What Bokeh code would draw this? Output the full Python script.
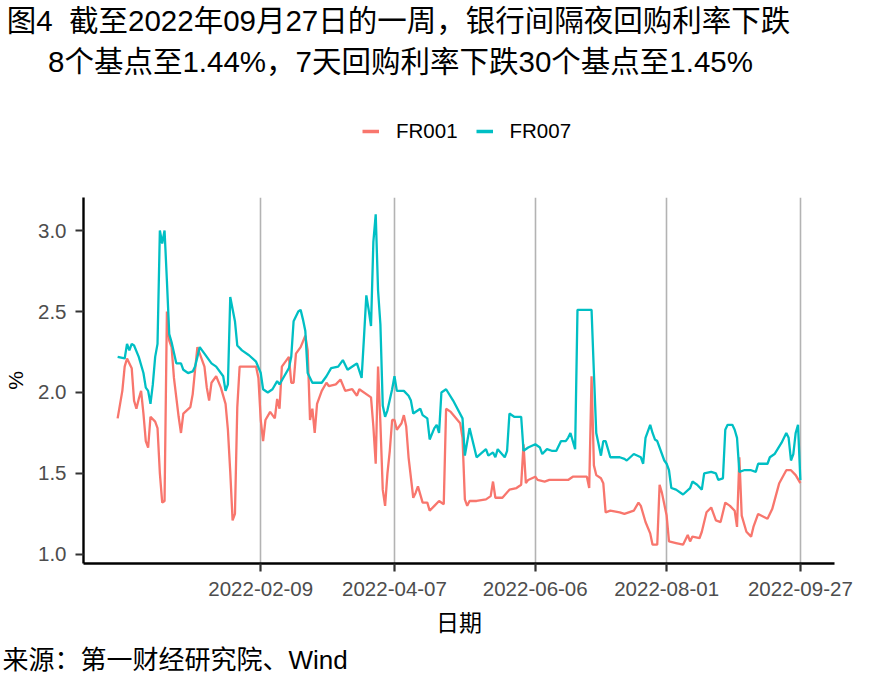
import pandas as pd
from bokeh.plotting import figure
from bokeh.layouts import column
from bokeh.models import (ColumnDataSource, Range1d, FixedTicker, DatetimeTickFormatter,
                          PrintfTickFormatter, Legend, LegendItem, Label)
from bokeh.embed import file_html
from bokeh.resources import INLINE

# ---------------- data ----------------
fr007_dates = [
    "2021-12-10", "2021-12-13", "2021-12-14", "2021-12-15", "2021-12-16", "2021-12-17", "2021-12-19",
    "2021-12-21", "2021-12-22", "2021-12-23", "2021-12-24", "2021-12-25", "2021-12-26", "2021-12-27",
    "2021-12-28", "2021-12-29", "2021-12-30", "2021-12-31", "2022-01-01", "2022-01-02", "2022-01-04",
    "2022-01-06", "2022-01-07", "2022-01-09", "2022-01-11", "2022-01-12", "2022-01-13", "2022-01-14",
    "2022-01-16", "2022-01-19", "2022-01-21", "2022-01-24", "2022-01-25", "2022-01-26", "2022-01-27",
    "2022-01-29", "2022-01-30", "2022-02-01", "2022-02-04", "2022-02-07", "2022-02-09", "2022-02-10",
    "2022-02-12", "2022-02-14", "2022-02-16", "2022-02-17", "2022-02-19", "2022-02-21", "2022-02-22",
    "2022-02-23", "2022-02-25", "2022-02-26", "2022-02-27", "2022-02-28", "2022-03-01", "2022-03-03",
    "2022-03-07", "2022-03-09", "2022-03-11", "2022-03-14", "2022-03-16", "2022-03-18", "2022-03-21",
    "2022-03-22", "2022-03-24", "2022-03-25", "2022-03-26", "2022-03-27", "2022-03-28", "2022-03-29",
    "2022-03-30", "2022-03-31", "2022-04-01", "2022-04-02", "2022-04-03", "2022-04-04", "2022-04-06",
    "2022-04-07", "2022-04-08", "2022-04-11", "2022-04-13", "2022-04-14", "2022-04-15", "2022-04-18",
    "2022-04-19", "2022-04-21", "2022-04-22", "2022-04-24", "2022-04-25", "2022-04-26", "2022-04-27",
    "2022-04-29", "2022-05-02", "2022-05-06", "2022-05-07", "2022-05-09", "2022-05-11", "2022-05-12",
    "2022-05-16", "2022-05-17", "2022-05-19", "2022-05-20", "2022-05-21", "2022-05-24", "2022-05-25",
    "2022-05-26", "2022-05-28", "2022-05-31", "2022-06-01", "2022-06-03", "2022-06-06", "2022-06-08",
    "2022-06-09", "2022-06-11", "2022-06-13", "2022-06-15", "2022-06-17", "2022-06-19", "2022-06-20",
    "2022-06-21", "2022-06-23", "2022-06-24", "2022-06-30", "2022-07-01", "2022-07-02", "2022-07-03",
    "2022-07-04", "2022-07-05", "2022-07-06", "2022-07-08", "2022-07-12", "2022-07-14", "2022-07-15",
    "2022-07-18", "2022-07-21", "2022-07-22", "2022-07-23", "2022-07-25", "2022-07-26", "2022-07-27",
    "2022-07-28", "2022-07-31", "2022-08-01", "2022-08-02", "2022-08-03", "2022-08-05", "2022-08-08",
    "2022-08-11", "2022-08-12", "2022-08-14", "2022-08-16", "2022-08-17", "2022-08-20", "2022-08-22",
    "2022-08-23", "2022-08-25", "2022-08-26", "2022-08-27", "2022-08-29", "2022-08-30", "2022-08-31",
    "2022-09-01", "2022-09-03", "2022-09-06", "2022-09-08", "2022-09-09", "2022-09-13", "2022-09-14",
    "2022-09-16", "2022-09-19", "2022-09-21", "2022-09-22", "2022-09-23", "2022-09-24", "2022-09-25",
    "2022-09-26", "2022-09-27",
]
fr007_values = [
    2.22, 2.21, 2.30, 2.26, 2.30, 2.29, 2.22,
    2.12, 2.03, 2.01, 1.93, 2.05, 2.22, 2.30,
    3.00, 2.92, 3.00, 2.69, 2.36, 2.31, 2.18,
    2.18, 2.14, 2.12, 2.13, 2.16, 2.22, 2.28,
    2.24, 2.18, 2.16, 2.10, 2.01, 2.05, 2.59,
    2.44, 2.29, 2.26, 2.23, 2.19, 2.12, 2.02,
    2.00, 2.02, 2.07, 2.05, 2.10, 2.15, 2.22,
    2.44, 2.50, 2.51, 2.45, 2.38, 2.12, 2.06,
    2.06, 2.10, 2.15, 2.16, 2.20, 2.14, 2.17,
    2.18, 2.09, 2.34, 2.60, 2.51, 2.41, 2.93,
    3.10, 2.63, 2.42, 1.92, 1.85, 1.89, 2.02,
    2.10, 2.01, 2.01, 1.98, 1.95, 1.87, 1.90,
    1.86, 1.84, 1.71, 1.78, 1.80, 1.75, 2.00,
    2.02, 1.95, 1.84, 1.61, 1.78, 1.66, 1.60,
    1.65, 1.61, 1.63, 1.60, 1.65, 1.60, 1.64,
    1.87, 1.85, 1.85, 1.64, 1.66, 1.68, 1.66,
    1.62, 1.65, 1.64, 1.64, 1.70, 1.70, 1.72,
    1.75, 1.65, 2.51, 2.51, 2.12, 1.75, 1.68,
    1.61, 1.70, 1.70, 1.60, 1.60, 1.59, 1.58,
    1.62, 1.60, 1.56, 1.72, 1.80, 1.75, 1.71,
    1.70, 1.58, 1.56, 1.52, 1.41, 1.40, 1.37,
    1.41, 1.45, 1.43, 1.40, 1.50, 1.51, 1.50,
    1.46, 1.47, 1.77, 1.80, 1.80, 1.77, 1.72,
    1.51, 1.52, 1.52, 1.51, 1.56, 1.56, 1.60,
    1.62, 1.69, 1.75, 1.72, 1.58, 1.62, 1.75,
    1.80, 1.46,
]

fr001_dates = [
    "2021-12-10", "2021-12-12", "2021-12-13", "2021-12-14", "2021-12-16", "2021-12-17", "2021-12-18",
    "2021-12-19", "2021-12-20", "2021-12-21", "2021-12-22", "2021-12-23", "2021-12-24", "2021-12-26",
    "2021-12-27", "2021-12-28", "2021-12-29", "2021-12-30", "2021-12-31", "2022-01-01", "2022-01-02",
    "2022-01-03", "2022-01-04", "2022-01-05", "2022-01-06", "2022-01-07", "2022-01-10", "2022-01-11",
    "2022-01-12", "2022-01-13", "2022-01-14", "2022-01-16", "2022-01-17", "2022-01-18", "2022-01-19",
    "2022-01-21", "2022-01-23", "2022-01-25", "2022-01-26", "2022-01-27", "2022-01-28", "2022-01-29",
    "2022-01-30", "2022-01-31", "2022-02-07", "2022-02-08", "2022-02-09", "2022-02-10", "2022-02-11",
    "2022-02-13", "2022-02-15", "2022-02-16", "2022-02-17", "2022-02-18", "2022-02-20", "2022-02-21",
    "2022-02-22", "2022-02-23", "2022-02-24", "2022-02-26", "2022-02-28", "2022-03-01", "2022-03-02",
    "2022-03-03", "2022-03-04", "2022-03-05", "2022-03-07", "2022-03-09", "2022-03-10", "2022-03-13",
    "2022-03-15", "2022-03-17", "2022-03-20", "2022-03-22", "2022-03-23", "2022-03-28", "2022-03-29",
    "2022-03-30", "2022-03-31", "2022-04-01", "2022-04-02", "2022-04-03", "2022-04-04", "2022-04-05",
    "2022-04-06", "2022-04-07", "2022-04-08", "2022-04-10", "2022-04-11", "2022-04-12", "2022-04-13",
    "2022-04-15", "2022-04-16", "2022-04-17", "2022-04-19", "2022-04-21", "2022-04-22", "2022-04-24",
    "2022-04-26", "2022-04-28", "2022-04-29", "2022-05-01", "2022-05-05", "2022-05-06", "2022-05-07",
    "2022-05-08", "2022-05-09", "2022-05-12", "2022-05-16", "2022-05-18", "2022-05-19", "2022-05-20",
    "2022-05-23", "2022-05-26", "2022-05-29", "2022-05-31", "2022-06-01", "2022-06-02", "2022-06-03",
    "2022-06-06", "2022-06-07", "2022-06-10", "2022-06-12", "2022-06-20", "2022-06-22", "2022-06-28",
    "2022-06-29", "2022-06-30", "2022-07-01", "2022-07-02", "2022-07-04", "2022-07-05", "2022-07-06",
    "2022-07-08", "2022-07-12", "2022-07-14", "2022-07-18", "2022-07-20", "2022-07-21", "2022-07-23",
    "2022-07-25", "2022-07-26", "2022-07-28", "2022-07-29", "2022-07-30", "2022-08-01", "2022-08-02",
    "2022-08-05", "2022-08-08", "2022-08-10", "2022-08-11", "2022-08-12", "2022-08-15", "2022-08-16",
    "2022-08-18", "2022-08-20", "2022-08-22", "2022-08-24", "2022-08-26", "2022-08-28", "2022-08-30",
    "2022-08-31", "2022-09-01", "2022-09-02", "2022-09-04", "2022-09-06", "2022-09-07", "2022-09-09",
    "2022-09-13", "2022-09-15", "2022-09-18", "2022-09-21", "2022-09-23", "2022-09-25", "2022-09-27",
]
fr001_values = [
    1.84, 2.01, 2.16, 2.21, 2.15, 1.95, 1.90,
    1.96, 2.01, 1.87, 1.70, 1.66, 1.85, 1.82,
    1.78, 1.50, 1.32, 1.33, 2.50, 2.32, 2.28,
    2.09, 1.97, 1.85, 1.75, 1.87, 1.91, 1.99,
    2.14, 2.28, 2.24, 2.16, 2.03, 1.95, 2.06,
    2.10, 2.03, 1.93, 1.77, 1.51, 1.21, 1.25,
    1.91, 2.16, 2.16, 2.09, 1.83, 1.70, 1.83,
    1.88, 1.84, 1.96, 1.90, 2.16, 2.20, 2.22,
    2.06, 2.06, 2.24, 2.28, 2.35, 2.26, 1.83,
    1.90, 1.75, 1.93, 2.01, 2.06, 2.04, 2.05,
    2.08, 2.01, 2.02, 1.98, 2.02, 1.97, 1.79,
    1.56, 2.16, 1.81, 1.40, 1.30, 1.50, 1.64,
    1.83, 1.83, 1.77, 1.81, 1.86, 1.79, 1.60,
    1.35, 1.38, 1.42, 1.32, 1.32, 1.27, 1.30,
    1.33, 1.31, 1.90, 1.88, 1.81, 1.72, 1.34,
    1.30, 1.33, 1.33, 1.34, 1.36, 1.45, 1.35,
    1.35, 1.40, 1.41, 1.43, 1.68, 1.44, 1.46,
    1.48, 1.46, 1.45, 1.46, 1.46, 1.48, 1.48,
    1.41, 2.10, 1.55, 1.49, 1.47, 1.44, 1.26,
    1.27, 1.26, 1.25, 1.27, 1.32, 1.30, 1.20,
    1.13, 1.06, 1.06, 1.43, 1.38, 1.24, 1.08,
    1.07, 1.06, 1.12, 1.08, 1.11, 1.10, 1.14,
    1.26, 1.29, 1.21, 1.20, 1.32, 1.30, 1.27,
    1.17, 1.60, 1.24, 1.14, 1.11, 1.17, 1.25,
    1.22, 1.28, 1.44, 1.52, 1.52, 1.49, 1.44,
]

series_names = ["FR001", "FR007"]
series_colors = ["#F8766D", "#00BFC4"]
x_tick_labels = ["2022-02-09", "2022-04-07", "2022-06-06", "2022-08-01", "2022-09-27"]
y_ticks = [1.0, 1.5, 2.0, 2.5, 3.0]

title_line1 = "图4\u00a0\u00a0截至2022年09月27日的一周，银行间隔夜回购利率下跌"
title_line2 = "8个基点至1.44%，7天回购利率下跌30个基点至1.45%"
x_title = "日期"
y_title = "%"
source_note = "来源：第一财经研究院、Wind"

# ---------------- styling ----------------
LATIN = "Liberation Sans"
MIXED = "Liberation Sans, Noto Sans CJK SC"
CJK = "Noto Sans CJK SC"
W = 877
TOP_H = 187
BOTTOM_H = 37

d7 = pd.to_datetime(pd.Series(fr007_dates))
d1 = pd.to_datetime(pd.Series(fr001_dates))
src1 = ColumnDataSource(dict(x=d1, y=fr001_values))
src7 = ColumnDataSource(dict(x=d7, y=fr007_values))


def blank_figure(height):
    f = figure(width=W, height=height, output_backend="svg", toolbar_location=None,
               x_range=Range1d(0, W), y_range=Range1d(0, height),
               x_axis_location=None, y_axis_location=None,
               min_border=0, min_border_left=0, min_border_right=0,
               min_border_top=0, min_border_bottom=0, frame_align=False)
    f.outline_line_color = None
    f.xgrid.visible = False
    f.ygrid.visible = False
    return f


def add_text(fig, text, x, y, size, font, align="left", baseline="middle"):
    fig.add_layout(Label(x=x, y=y, x_units="screen", y_units="screen", text=text,
                         text_font=font, text_font_size=size, text_color="black",
                         text_align=align, text_baseline=baseline))


# ---------------- header: title + legend ----------------
top = blank_figure(TOP_H)
add_text(top, title_line1, 398, TOP_H - 20, "29.5px", MIXED, align="center")
add_text(top, title_line2, 400, TOP_H - 61, "29.5px", MIXED, align="center")
# legend keys reuse the series (they fall outside this header's ranges, so only the keys show)
k1 = top.line("x", "y", source=src1, line_color=series_colors[0], line_width=3.5)
k7 = top.line("x", "y", source=src7, line_color=series_colors[1], line_width=3.5)
legend = Legend(items=[LegendItem(label=series_names[0], renderers=[k1]),
                       LegendItem(label=series_names[1], renderers=[k7])],
                orientation="horizontal", location=(362, 44),
                padding=0, margin=0, spacing=18,
                glyph_width=17, glyph_height=24, label_standoff=17,
                label_text_font=LATIN, label_text_font_size="20.5px",
                label_text_color="black",
                border_line_alpha=0, background_fill_alpha=0)
top.add_layout(legend)

# ---------------- main chart ----------------
x_min = min(d7.min(), d1.min())
x_max = max(d7.max(), d1.max())
pad = (x_max - x_min) * 0.05

p = figure(frame_width=751, frame_height=366, x_axis_type="datetime",
           output_backend="svg", toolbar_location=None,
           x_range=Range1d(x_min - pad, x_max + pad),
           y_range=Range1d(0.944, 3.204),
           min_border_left=83, min_border_right=43,
           min_border_top=10, min_border_bottom=80, frame_align=False)
p.outline_line_color = None

p.line("x", "y", source=src1, line_color=series_colors[0], line_width=2.3)
p.line("x", "y", source=src7, line_color=series_colors[1], line_width=2.3)

tick_ms = [pd.Timestamp(t).value // 10**6 for t in x_tick_labels]
xt = FixedTicker(ticks=tick_ms)
p.xaxis.ticker = xt
fmt = "%Y-%m-%d"
p.xaxis.formatter = DatetimeTickFormatter(milliseconds=fmt, seconds=fmt, minsec=fmt, minutes=fmt,
                                          hourmin=fmt, hours=fmt, days=fmt, months=fmt, years=fmt)
p.yaxis.ticker = FixedTicker(ticks=y_ticks)
p.yaxis.formatter = PrintfTickFormatter(format="%.1f")

for ax in (p.xaxis[0], p.yaxis[0]):
    ax.axis_line_color = "black"
    ax.axis_line_width = 2.4
    ax.major_tick_line_color = "#333333"
    ax.major_tick_line_width = 2.2
    ax.major_tick_out = 8
    ax.major_tick_in = 0
    ax.minor_tick_line_color = None
    ax.major_label_text_font = LATIN
    ax.major_label_text_font_size = "20.5px"
    ax.major_label_text_color = "#4d4d4d"
    ax.axis_label_text_color = "black"
    ax.axis_label_text_font_style = "normal"

p.xaxis.major_label_standoff = 10
p.yaxis.major_label_standoff = 9
p.xaxis.axis_label = x_title
p.xaxis.axis_label_text_font = CJK
p.xaxis.axis_label_text_font_size = "23px"
p.xaxis.axis_label_standoff = 5
p.yaxis.axis_label = y_title
p.yaxis.axis_label_text_font = LATIN
p.yaxis.axis_label_text_font_size = "21px"
p.yaxis.axis_label_standoff = 8

p.ygrid.visible = False
p.xgrid.ticker = xt
p.xgrid.grid_line_color = "#b3b3b3"
p.xgrid.grid_line_width = 1.6

# ---------------- footer: source ----------------
bottom = blank_figure(BOTTOM_H)
add_text(bottom, source_note, 2, BOTTOM_H - 16, "26px", MIXED, align="left")

layout = column(top, p, bottom, spacing=0)
open("out.html", "w").write(file_html(layout, INLINE))
